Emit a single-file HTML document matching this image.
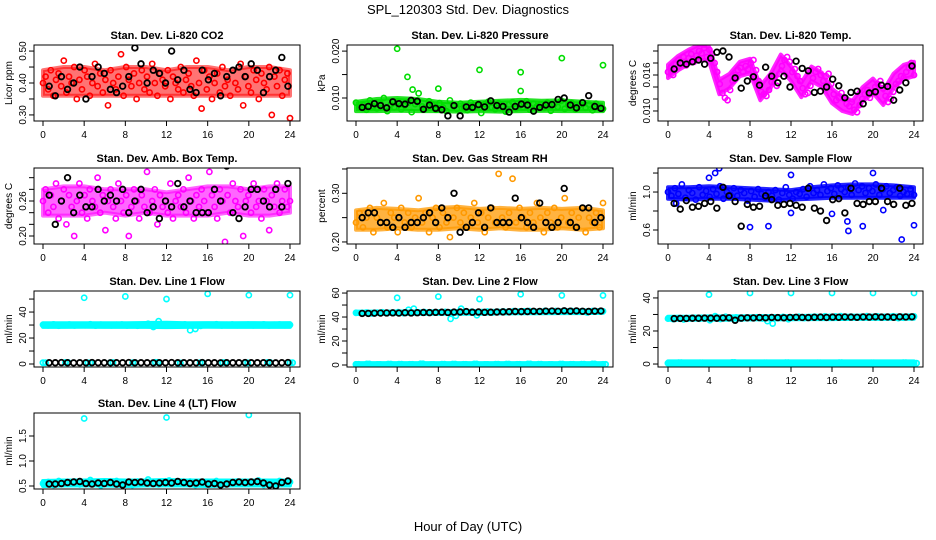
<!DOCTYPE html>
<html><head><meta charset="utf-8"><title>SPL_120303 Std. Dev. Diagnostics</title>
<style>
html,body{margin:0;padding:0;background:#fff;}
svg{display:block;font-family:"Liberation Sans",Arial,sans-serif;}
</style></head>
<body>
<svg id="chart" width="936" height="540" viewBox="0 0 936 540" xmlns="http://www.w3.org/2000/svg">
<rect width="936" height="540" fill="#fff"/>
<text x="468" y="14" text-anchor="middle" font-size="13">SPL_120303  Std. Dev. Diagnostics</text>
<text x="468" y="531" text-anchor="middle" font-size="13">Hour of Day (UTC)</text>
</svg>
<script>
// ---- data ----
const xTicks = [0,4,8,12,16,20,24];

const co2Color = [0.40,0.42,0.38,0.44,0.36,0.41,0.43,0.39,0.47,0.37,0.42,0.40,0.45,0.35,0.41,0.38,0.44,0.42,0.36,0.40,0.46,0.39,0.43,0.37,0.41,0.33,0.44,0.40,0.38,0.42,0.49,0.36,0.45,0.41,0.39,0.43,0.35,0.40,0.44,0.38,0.42,0.37,0.46,0.40,0.36,0.43,0.41,0.39,0.44,0.35,0.42,0.40,0.38,0.45,0.37,0.41,0.43,0.39,0.36,0.47,0.40,0.32,0.44,0.38,0.42,0.35,0.40,0.43,0.37,0.45,0.39,0.41,0.36,0.44,0.40,0.38,0.46,0.33,0.42,0.39,0.37,0.44,0.41,0.35,0.43,0.40,0.38,0.45,0.30,0.42,0.39,0.44,0.36,0.41,0.43,0.29];
const co2Black = [0.39,0.36,0.42,0.38,0.40,0.45,0.35,0.42,0.45,0.43,0.38,0.37,0.39,0.42,0.51,0.46,0.40,0.44,0.43,0.40,0.50,0.41,0.44,0.38,0.37,0.44,0.41,0.43,0.36,0.42,0.44,0.45,0.42,0.46,0.44,0.37,0.42,0.44,0.48,0.39];
const co2BandLo = [0.36,0.36,0.36,0.36,0.36,0.36,0.36,0.36,0.36,0.36,0.36,0.36,0.36];
const co2BandHi = [0.44,0.45,0.45,0.44,0.45,0.45,0.44,0.45,0.45,0.44,0.45,0.45,0.44];

const presColor = [0.0090,0.0080,0.0085,0.0075,0.0095,0.0082,0.0078,0.0088,0.0100,0.0072,0.0086,0.0080,0.0092,0.0076,0.0084,0.0090,0.0070,0.0087,0.0110,0.0082,0.0078,0.0093,0.0085,0.0075,0.0089,0.0080,0.0072,0.0095,0.0083,0.0077,0.0088,0.0081,0.0074,0.0090,0.0079,0.0085,0.0068,0.0087,0.0092,0.0080,0.0076,0.0089,0.0082,0.0071,0.0086,0.0091,0.0078,0.0084,0.0080,0.0093,0.0075,0.0088,0.0082,0.0086,0.0079,0.0090,0.0073,0.0087,0.0081,0.0094,0.0077,0.0085,0.0089,0.0076,0.0083,0.0091,0.0079,0.0086,0.0074,0.0088,0.0081,0.0077];
const presBlack = [0.0080,0.0082,0.0088,0.0084,0.0079,0.0092,0.0088,0.0087,0.0095,0.0093,0.0076,0.0085,0.0078,0.0075,0.0062,0.0084,0.0062,0.0081,0.0080,0.0086,0.0081,0.0094,0.0084,0.0082,0.0070,0.0082,0.0087,0.0085,0.0072,0.0080,0.0085,0.0086,0.0097,0.0100,0.0085,0.0079,0.0090,0.0105,0.0082,0.0078];
const presOutX = [4.0,5.0,12.0,16.0,20.0,24.0,8.0,16.0,5.5];
const presOutY = [0.0205,0.0145,0.0160,0.0155,0.0185,0.0170,0.0120,0.0115,0.0118];
const presBandLo = [0.0072,0.0072,0.0073,0.0072,0.0072,0.0071,0.0072,0.0071,0.0072,0.0073,0.0072,0.0072,0.0072];
const presBandHi = [0.0092,0.0098,0.0100,0.0098,0.0092,0.0090,0.0092,0.0094,0.0096,0.0094,0.0095,0.0092,0.0090];

const tempColor = [0.0165,0.0172,0.0160,0.0178,0.0185,0.0180,0.0190,0.0176,0.0188,0.0195,0.0182,0.0192,0.0200,0.0196,0.0205,0.0190,0.0202,0.0195,0.0180,0.0165,0.0145,0.0130,0.0122,0.0118,0.0135,0.0150,0.0160,0.0168,0.0172,0.0165,0.0175,0.0170,0.0180,0.0185,0.0168,0.0150,0.0132,0.0128,0.0125,0.0135,0.0148,0.0155,0.0142,0.0162,0.0175,0.0185,0.0190,0.0182,0.0165,0.0170,0.0158,0.0150,0.0138,0.0128,0.0130,0.0142,0.0155,0.0165,0.0170,0.0160,0.0150,0.0158,0.0162,0.0145,0.0128,0.0118,0.0122,0.0130,0.0120,0.0112,0.0108,0.0115,0.0102,0.0098,0.0110,0.0120,0.0128,0.0135,0.0122,0.0130,0.0140,0.0145,0.0150,0.0138,0.0125,0.0115,0.0120,0.0132,0.0145,0.0150,0.0158,0.0155,0.0165,0.0172,0.0180,0.0160];
const tempBlack = [0.0170,0.0180,0.0178,0.0182,0.0185,0.0178,0.0188,0.0198,0.0200,0.0190,0.0155,0.0138,0.0150,0.0157,0.0143,0.0173,0.0158,0.0147,0.0158,0.0140,0.0183,0.0171,0.0167,0.0131,0.0133,0.0140,0.0153,0.0142,0.0122,0.0131,0.0133,0.0112,0.0130,0.0132,0.0143,0.0141,0.0118,0.0135,0.0147,0.0175];
const tempBandLo = [0.0155,0.0168,0.0178,0.0186,0.0183,0.0128,0.0138,0.0158,0.0163,0.0118,0.0138,0.0170,0.0150,0.0123,0.0150,0.0140,0.0113,0.0100,0.0095,0.0116,0.0130,0.0110,0.0138,0.0153,0.0158];
const tempBandHi = [0.0177,0.0192,0.0202,0.0210,0.0207,0.0152,0.0162,0.0182,0.0187,0.0142,0.0162,0.0194,0.0174,0.0147,0.0174,0.0164,0.0137,0.0124,0.0117,0.0140,0.0154,0.0134,0.0162,0.0177,0.0182];

const ambColor = [0.26,0.28,0.24,0.27,0.25,0.29,0.23,0.26,0.28,0.22,0.27,0.25,0.20,0.26,0.29,0.24,0.27,0.23,0.28,0.26,0.25,0.30,0.24,0.27,0.21,0.26,0.28,0.25,0.23,0.29,0.26,0.24,0.27,0.20,0.25,0.28,0.26,0.23,0.27,0.25,0.31,0.24,0.26,0.28,0.22,0.27,0.25,0.26,0.24,0.29,0.23,0.26,0.27,0.25,0.28,0.24,0.30,0.26,0.23,0.27,0.25,0.28,0.26,0.24,0.31,0.27,0.25,0.23,0.28,0.26,0.19,0.27,0.24,0.29,0.26,0.25,0.28,0.20,0.26,0.27,0.24,0.29,0.25,0.26,0.23,0.28,0.26,0.21,0.27,0.25,0.29,0.24,0.26,0.28,0.25,0.26];
const ambBlack = [0.27,0.22,0.26,0.30,0.24,0.27,0.25,0.25,0.28,0.26,0.27,0.26,0.28,0.24,0.26,0.28,0.24,0.25,0.23,0.26,0.25,0.29,0.25,0.26,0.24,0.24,0.24,0.28,0.26,0.32,0.24,0.23,0.25,0.28,0.28,0.26,0.25,0.28,0.25,0.29];
const ambBandLo = [0.235,0.235,0.235,0.24,0.235,0.24,0.235,0.235,0.235,0.24,0.235,0.235,0.24];
const ambBandHi = [0.28,0.285,0.285,0.28,0.28,0.28,0.275,0.28,0.285,0.285,0.28,0.285,0.285];

const rhColor = [0.24,0.26,0.23,0.25,0.27,0.22,0.25,0.24,0.28,0.23,0.26,0.25,0.22,0.27,0.24,0.26,0.23,0.25,0.29,0.24,0.26,0.22,0.25,0.27,0.23,0.26,0.24,0.21,0.25,0.27,0.24,0.26,0.23,0.25,0.28,0.24,0.26,0.22,0.25,0.27,0.24,0.34,0.25,0.23,0.26,0.33,0.24,0.27,0.25,0.23,0.26,0.24,0.28,0.25,0.22,0.26,0.24,0.27,0.23,0.25,0.29,0.24,0.26,0.23,0.25,0.27,0.22,0.25,0.24,0.26,0.23,0.28];
const rhBlack = [0.25,0.26,0.26,0.24,0.24,0.23,0.25,0.23,0.24,0.24,0.25,0.26,0.24,0.27,0.25,0.30,0.22,0.23,0.24,0.26,0.23,0.27,0.24,0.24,0.24,0.29,0.25,0.24,0.23,0.28,0.24,0.23,0.24,0.31,0.24,0.23,0.27,0.27,0.24,0.25];
const rhBandLo = [0.225,0.225,0.228,0.225,0.225,0.228,0.225,0.228,0.225,0.225,0.228,0.225,0.228];
const rhBandHi = [0.265,0.27,0.268,0.265,0.27,0.272,0.268,0.27,0.268,0.27,0.268,0.27,0.265];

const flowColor = [1.00,0.96,1.04,0.98,1.08,0.94,1.02,0.99,0.92,1.05,0.97,1.01,0.95,1.03,0.98,1.06,0.93,1.00,0.97,1.04,0.96,1.02,0.99,0.91,1.01,0.95,1.03,0.98,0.94,1.00,0.96,1.02,0.92,0.99,1.05,0.97,0.93,1.00,0.98,1.03,0.95,1.06,0.99,1.02,0.97,1.08,1.01,1.04,0.98,1.07,1.03,1.00,1.05,0.97,1.09,1.02,1.06,0.99,1.04,1.01,1.08,0.97,1.03,1.06,0.99,1.02,1.05,0.96,1.00,0.98,1.03,0.97];
const flowBlack = [0.88,0.82,0.91,0.84,0.85,0.88,0.90,0.83,1.05,0.96,0.90,0.64,0.87,0.84,0.85,0.96,0.92,0.86,0.87,0.88,0.86,0.84,1.04,0.83,0.80,0.70,0.92,0.93,0.78,1.04,0.88,0.87,0.90,0.90,1.04,0.90,0.87,1.04,0.86,0.88];
const flowOutX = [4.6,0.8,8.0,9.8,12.0,12.0,16.0,17.5,17.6,19.0,20.0,21.0,22.8,24.0,4.0,5.0];
const flowOutY = [1.20,0.88,0.63,0.64,1.18,0.78,0.77,0.69,0.59,0.64,1.20,0.81,0.50,0.65,1.15,1.25];
const flowBandLo = [0.93,0.92,0.93,0.93,0.92,0.91,0.92,0.93,0.94,0.94,0.94,0.94,0.94];
const flowBandHi = [1.05,1.05,1.06,1.05,1.04,1.03,1.02,1.05,1.07,1.08,1.08,1.07,1.05];

const l1Color = [30.2,29.8,30.5,29.5,30.0,30.4,29.7,30.1,29.9,30.6,29.6,30.3,30.0,29.8,30.2,30.4,29.7,30.1,29.5,30.0,31.0,28.5,33.0,30.3,29.9,30.2,29.8,30.5,26.0,27.0,29.4,30.1,30.0,30.6,29.7,30.2,30.4,29.9,30.1,30.3,29.8,30.0,30.5,29.7,30.2,30.4,29.9,30.1];
const l1Low = [1.0,1.2,0.9,1.1,1.0,1.3,0.8,1.0,1.1,0.9,1.2,1.0];
const l1Black = [1.0,1.0,1.1,1.0,0.9,1.0,1.0,1.1,1.0,1.0,0.9,1.0,1.0,1.1,1.0,1.0,1.0,0.9,1.0,1.0,1.1,1.0,1.0,1.0,1.0,1.1,1.0,1.0,0.9,1.0,1.0,1.0,1.1,1.0,1.0,1.0,1.0,0.9,1.0,1.1];
const l1OutX = [4,8,12,16,20,24];
const l1OutY = [51,52,50,54,53,53];
const l1BandLo = [28.6,28.6,28.7,28.6,28.6,28.6,28.4,28.6,28.7,28.6,28.6,28.6,28.6];
const l1BandHi = [31.4,31.3,31.3,31.4,31.3,31.6,31.8,31.4,31.5,31.4,31.5,31.4,31.5];

const l2Color = [43.5,43.2,43.8,43.0,43.6,44.0,43.4,43.7,44.1,43.3,46.0,47.0,43.9,44.2,43.5,44.0,43.8,44.3,38.5,41.0,47.0,43.9,44.5,41.5,44.2,44.6,43.8,44.4,44.7,44.1,44.9,44.5,44.8,45.0,44.3,44.7,45.2,44.6,45.0,44.4,44.8,45.1,44.5,44.9,43.8,45.0,44.6,44.8];
const l2Low = [0.5,0.8,0.4,0.7,0.6,0.5,0.9,0.4,0.6,0.7,0.5,0.8,0.4,0.6,0.7,0.5,0.8,0.6,0.4,0.7,0.5,0.6,0.8,0.5];
const l2Black = [43.0,43.0,43.2,43.3,43.4,43.5,43.3,43.6,43.4,43.6,43.8,43.7,43.9,44.0,43.8,44.1,44.2,44.5,44.0,44.2,43.9,44.0,44.2,44.3,44.4,44.6,44.5,44.6,44.8,44.7,44.9,45.0,44.8,45.2,44.9,45.1,44.8,44.6,44.9,45.0];
const l2OutX = [4,8,12,16,20,24];
const l2OutY = [56,57,55,59,58,58];
const l2BandLo = [42.5,42.5,42.6,42.6,42.7,42.8,42.8,43.0,43.1,43.2,43.3,43.3,43.4];
const l2BandHi = [44.5,44.5,44.6,44.7,44.8,45.0,45.0,45.2,45.3,45.4,45.6,45.5,45.6];
const l2LowLo = [-0.3,-0.3,-0.3,-0.3,-0.3,-0.3,-0.3,-0.3,-0.3,-0.3,-0.3,-0.3,-0.3];
const l2LowHi = [1.6,1.6,1.6,1.6,1.6,1.6,1.6,1.6,1.6,1.6,1.6,1.6,1.6];

const l3Color = [27.5,27.2,27.8,27.0,27.6,28.0,27.4,27.7,26.5,29.0,27.3,28.6,27.9,28.2,27.5,28.0,27.8,28.3,27.6,26.0,24.5,27.9,28.5,27.1,28.2,28.6,27.8,28.4,28.7,28.1,28.9,28.5,28.8,29.0,28.3,28.7,28.2,28.6,29.0,28.4,28.8,28.1,28.5,28.9,27.8,28.0,28.6,28.8];
const l3Low = [0.5,0.8,0.4,0.7,0.6,0.5,0.9,0.4,0.6,0.7,0.5,0.8,0.4,0.6,0.7,0.5,0.8,0.6,0.4,0.7,0.5,0.6,0.8,0.5];
const l3Black = [27.5,27.6,27.6,27.7,27.7,27.8,27.8,27.7,27.9,28.0,26.5,27.8,28.0,27.9,28.1,28.0,28.2,28.1,28.0,28.2,28.3,28.2,28.1,28.3,28.4,28.2,28.4,28.3,28.5,28.4,28.3,28.5,28.4,28.6,28.4,28.5,28.3,28.6,28.5,28.6];
const l3OutX = [4,8,12,16,20,24];
const l3OutY = [42,43,43,43,43,43];
const l3BandLo = [26.8,26.8,26.9,26.8,27.0,27.0,27.1,27.2,27.2,27.3,27.3,27.4,27.4];
const l3BandHi = [28.6,28.6,28.8,28.8,28.9,29.0,29.0,29.2,29.2,29.3,29.3,29.4,29.4];
const l3LowLo = [-0.3,-0.3,-0.3,-0.3,-0.3,-0.3,-0.3,-0.3,-0.3,-0.3,-0.3,-0.3,-0.3];
const l3LowHi = [1.6,1.6,1.6,1.6,1.6,1.6,1.6,1.6,1.6,1.6,1.6,1.6,1.6];

const l4Color = [0.55,0.58,0.52,0.60,0.56,0.54,0.59,0.53,0.57,0.62,0.55,0.51,0.58,0.56,0.60,0.54,0.57,0.52,0.59,0.55,0.63,0.56,0.53,0.58,0.61,0.55,0.57,0.54,0.59,0.52,0.56,0.58,0.55,0.60,0.53,0.57,0.56,0.59,0.54,0.58,0.55,0.61,0.52,0.57,0.56,0.60,0.54,0.58];
const l4Black = [0.54,0.54,0.55,0.57,0.58,0.59,0.55,0.54,0.56,0.55,0.57,0.54,0.52,0.58,0.57,0.58,0.56,0.55,0.56,0.57,0.56,0.59,0.57,0.55,0.56,0.58,0.54,0.55,0.52,0.54,0.57,0.58,0.57,0.58,0.59,0.56,0.52,0.50,0.57,0.60];
const l4OutX = [4,12,20];
const l4OutY = [1.85,1.87,1.92];
const l4BandLo = [0.50,0.51,0.51,0.51,0.50,0.51,0.51,0.51,0.50,0.51,0.51,0.51,0.51];
const l4BandHi = [0.60,0.61,0.61,0.62,0.61,0.61,0.62,0.61,0.61,0.61,0.61,0.61,0.61];

// ---- layout ----
const cols = [{L:34,R:300,a:43,b:290},{L:347,R:613,a:356,b:603},{L:658,R:923,a:668,b:914}];
const rowTops = [45,168,291,413];
const H = 76;
const svg = document.getElementById('chart');
const NS = 'http://www.w3.org/2000/svg';
function mk(tag, attrs, parent){const e=document.createElementNS(NS,tag);for(const k in attrs)e.setAttribute(k,attrs[k]);(parent||svg).appendChild(e);return e;}

const panels = [
 {key:'co2',title:'Stan. Dev. Li-820 CO2',ylab:'Licor ppm',c:0,r:0,ymin:0.281,ymax:0.519,ticks:[0.30,0.35,0.40,0.45,0.50],labs:['0.30','','0.40','','0.50'],color:'#ff0000',col:co2Color,blk:co2Black,bands:[[co2BandLo,co2BandHi,0.55]]},
 {key:'pressure',title:'Stan. Dev. Li-820 Pressure',ylab:'kPa',c:1,r:0,ymin:0.0051,ymax:0.0213,ticks:[0.010,0.015,0.020],labs:['0.010','','0.020'],color:'#00dd00',col:presColor,blk:presBlack,ox:presOutX,oy:presOutY,bands:[[presBandLo,presBandHi,0.85]]},
 {key:'li-temp',title:'Stan. Dev. Li-820 Temp.',ylab:'degrees C',c:2,r:0,ymin:0.00833,ymax:0.021,ticks:[0.010,0.012,0.014,0.016,0.018,0.020],labs:['0.010','','','0.016','',''],color:'#ff00ff',col:tempColor,blk:tempBlack,bands:[[tempBandLo,tempBandHi,0.85]]},
 {key:'amb-temp',title:'Stan. Dev. Amb. Box Temp.',ylab:'degrees C',c:0,r:1,ymin:0.1863,ymax:0.3166,ticks:[0.20,0.22,0.24,0.26,0.28,0.30],labs:['0.20','','','0.26','',''],color:'#ff00ff',col:ambColor,blk:ambBlack,bands:[[ambBandLo,ambBandHi,0.6]]},
 {key:'gas-rh',title:'Stan. Dev. Gas Stream RH',ylab:'percent',c:1,r:1,ymin:0.1958,ymax:0.352,ticks:[0.20,0.25,0.30,0.35],labs:['0.20','','0.30',''],color:'#ff9900',col:rhColor,blk:rhBlack,bands:[[rhBandLo,rhBandHi,0.75]]},
 {key:'sample-flow',title:'Stan. Dev. Sample Flow',ylab:'ml/min',c:2,r:1,ymin:0.4526,ymax:1.253,ticks:[0.6,0.8,1.0,1.2],labs:['0.6','','1.0',''],color:'#0000ff',col:flowColor,blk:flowBlack,ox:flowOutX,oy:flowOutY,bands:[[flowBandLo,flowBandHi,0.85]]},
 {key:'line1',title:'Stan. Dev. Line 1 Flow',ylab:'ml/min',c:0,r:2,ymin:-2.3,ymax:56.2,ticks:[0,10,20,30,40,50],labs:['0','','20','','40',''],color:'#00ffff',col:l1Color,low:l1Low,blk:l1Black,ox:l1OutX,oy:l1OutY,bands:[[l1BandLo,l1BandHi,1]]},
 {key:'line2',title:'Stan. Dev. Line 2 Flow',ylab:'ml/min',c:1,r:2,ymin:-1.67,ymax:61.7,ticks:[0,10,20,30,40,50,60],labs:['0','','20','','40','','60'],color:'#00ffff',col:l2Color,low:l2Low,blk:l2Black,ox:l2OutX,oy:l2OutY,bands:[[l2BandLo,l2BandHi,1],[l2LowLo,l2LowHi,1]]},
 {key:'line3',title:'Stan. Dev. Line 3 Flow',ylab:'ml/min',c:2,r:2,ymin:-1.8,ymax:44.2,ticks:[0,10,20,30,40],labs:['0','','20','','40'],color:'#00ffff',col:l3Color,low:l3Low,blk:l3Black,ox:l3OutX,oy:l3OutY,bands:[[l3BandLo,l3BandHi,1],[l3LowLo,l3LowHi,1]]},
 {key:'line4',title:'Stan. Dev. Line 4 (LT) Flow',ylab:'ml/min',c:0,r:3,ymin:0.44,ymax:1.96,ticks:[0.5,1.0,1.5],labs:['0.5','1.0','1.5'],color:'#00ffff',col:l4Color,blk:l4Black,ox:l4OutX,oy:l4OutY,bands:[[l4BandLo,l4BandHi,1]]}
];

panels.forEach(p=>{
  const C=cols[p.c], top=rowTops[p.r], bot=top+H;
  const g=mk('g',{});
  
  
  const xs=v=>C.a+v*(C.b-C.a)/24;
  const ys=v=>top+(p.ymax-v)/(p.ymax-p.ymin)*H;
  const t=mk('text',{x:(C.L+C.R)/2,y:top-6,'text-anchor':'middle','font-size':'11','font-weight':'bold'},g);
  t.textContent=p.title;
  
  
  const xa=mk('g',{},g);
  
  
  mk('line',{x1:xs(xTicks[0]),x2:xs(xTicks[xTicks.length-1]),y1:bot,y2:bot,stroke:'#000'},xa);
  xTicks.forEach(v=>{
    mk('line',{x1:xs(v),x2:xs(v),y1:bot,y2:bot+5,stroke:'#000'},xa);
    const l=mk('text',{x:xs(v),y:bot+17,'text-anchor':'middle','font-size':'10'},xa);
    l.textContent=v;
    
    
  });
  const ya=mk('g',{},g);
  
  
  mk('line',{x1:C.L,x2:C.L,y1:ys(p.ticks[0]),y2:ys(p.ticks[p.ticks.length-1]),stroke:'#000'},ya);
  p.ticks.forEach((v,i)=>{
    const y=ys(v);
    mk('line',{x1:C.L-5,x2:C.L,y1:y,y2:y,stroke:'#000'},ya);
    if(p.labs[i]){
      const l=mk('text',{x:C.L-8,y:y,'text-anchor':'middle','font-size':'10',transform:`rotate(-90 ${C.L-8} ${y})`},ya);
      l.textContent=p.labs[i];
      
      
    }
  });
  const yl=mk('text',{x:C.L-22,y:(top+bot)/2,'text-anchor':'middle','font-size':'10',transform:`rotate(-90 ${C.L-22} ${(top+bot)/2})`},ya);
  yl.textContent=p.ylab;
  
  
  const clip='clip-'+p.key;
  const cp=mk('clipPath',{id:clip},g);mk('rect',{x:C.L,y:top,width:C.R-C.L,height:H},cp);
  const pts=mk('g',{'clip-path':`url(#${clip})`},g);
  
  
  // dense-cloud envelopes
  (p.bands||[]).forEach(b=>{
    const lo=b[0], hi=b[1], m=lo.length;
    const xAt=i=>i*24/(m-1);
    let d='';
    hi.forEach((v,i)=>{d+=(i?'L':'M')+xs(xAt(i)).toFixed(1)+','+ys(v).toFixed(1);});
    for(let i=m-1;i>=0;i--){d+='L'+xs(xAt(i)).toFixed(1)+','+ys(lo[i]).toFixed(1);}
    d+='Z';
    const band=mk('path',{d:d,fill:p.color,'fill-opacity':b[2],stroke:p.color,'stroke-width':4,'stroke-opacity':b[2],'stroke-linejoin':'round'},pts);
    
    
  });
  const dot=(x,y,color,r,w,name)=>{
    const c=mk('circle',{cx:xs(x),cy:ys(y),r:r,fill:'none',stroke:color,'stroke-width':w},pts);
    
    
  };
  const n=p.col.length;
  p.col.forEach((v,i)=>dot(i*24/(n-1),v,p.color,2.6,1.6,'point-'+p.key));
  if(p.low){const m=p.low.length;p.low.forEach((v,i)=>{const x0=i*24/(m-1);dot(x0,v,p.color,2.6,1.8,'point-low');dot(x0+0.25,v,p.color,2.6,1.8,'point-low');});}
  if(p.ox){p.ox.forEach((x,i)=>dot(x,p.oy[i],p.color,2.6,1.6,'point-outlier'));}
  const nb=p.blk.length;
  p.blk.forEach((v,i)=>dot(0.6+i*23.2/(nb-1),v,'#000',2.8,1.8,'point-black'));
  mk('rect',{x:C.L,y:top,width:C.R-C.L,height:H,fill:'none',stroke:'#000'},g);
});
</script>
</body></html>
